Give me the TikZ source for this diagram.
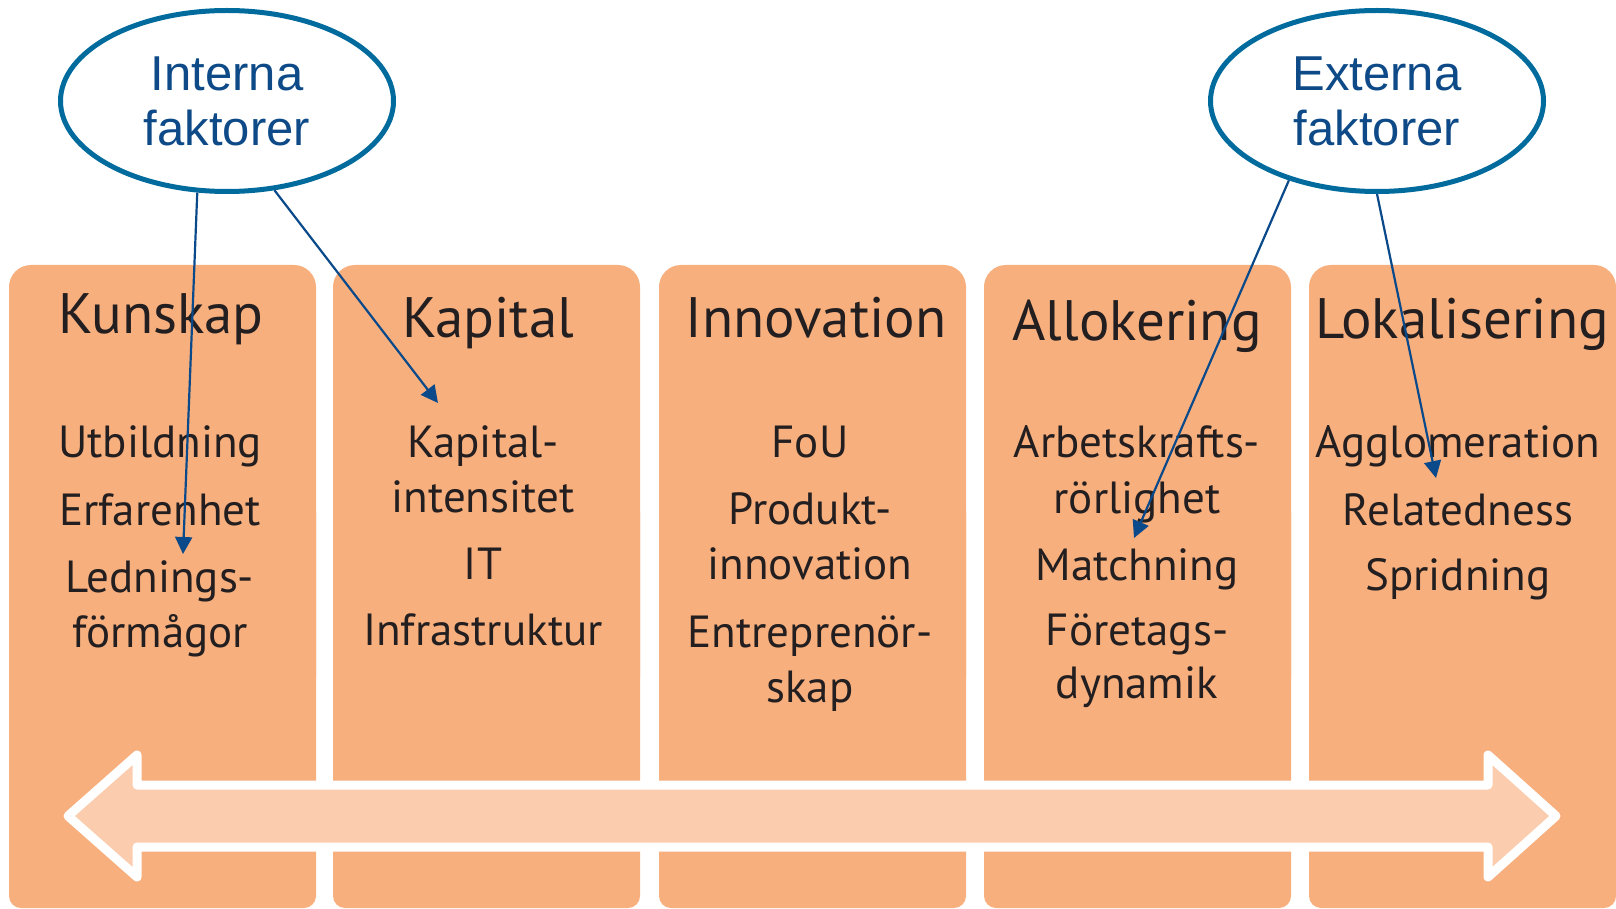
\documentclass[tikz,border=0pt]{standalone}
\usepackage{fontspec}
\setmainfont{PT Sans}
\newfontfamily\arialf{Liberation Sans}
\usetikzlibrary{shapes.geometric,arrows.meta}
\definecolor{colfill}{HTML}{F8AF7E}
\definecolor{arrfill}{HTML}{FBCCAD}
\definecolor{ellline}{HTML}{006B9C}
\definecolor{elltext}{HTML}{0D4A87}
\definecolor{connc}{HTML}{0B4A8A}
\definecolor{txt}{HTML}{231F20}
\begin{document}
\begin{tikzpicture}[x=1pt,y=-1pt,
  factor/.style={ellipse, draw=ellline, line width=5pt, fill=white, minimum width=333pt, minimum height=181pt, inner sep=0pt, align=center, text=elltext, font=\arialf\fontsize{49}{55}\selectfont},
  head/.style={text=txt, font=\fontsize{57}{60}\selectfont, anchor=base, inner sep=0pt},
  item/.style={text=txt, font=\fontsize{45}{55}\selectfont, anchor=base, inner sep=0pt},
  colbox/.style={fill=colfill},
  bigarrow/.style={draw=white, line width=9pt, line join=round, fill=arrfill},
  connarrow/.style={draw=connc, line width=2.2pt, -{Triangle[length=17pt,width=17pt]}},
]
\useasboundingbox (0,0) rectangle (1616,909);
% columns
\foreach \x in {9,333,659,984,1309}{
  \fill[colbox, rounded corners=22pt] (\x,265) rectangle (\x+307,700);
  \fill[colbox, rounded corners=12pt] (\x,500) rectangle (\x+307,908);
}
% double arrow
\path[bigarrow] (68,816) -- (137,755) -- (137,785) -- (1488,785) -- (1488,755) -- (1556,816) -- (1488,877) -- (1488,847) -- (137,847) -- (137,877) -- cycle;
% ellipses
\node[factor] (int) at (227,101) {Interna\\faktorer};
\node[factor] (ext) at (1377,101) {Externa\\faktorer};
% column 1
\node[head] (h1) at (161,333) {Kunskap};
\node[item] (a1) at (160,457) {Utbildning};
\node[item] (a2) at (160,525) {Erfarenhet};
\node[item] (a3) at (160,592) {Lednings-};
\node[item] (a4) at (160,647) {förmågor};
% column 2
\node[head] (h2) at (488,337) {Kapital};
\node[item] (b1) at (483,457) {Kapital-};
\node[item] (b2) at (483,512) {intensitet};
\node[item] (b3) at (483,579) {IT};
\node[item] (b4) at (483,645) {Infrastruktur};
% column 3
\node[head] (h3) at (816,337) {Innovation};
\node[item] (c1) at (810,457) {FoU};
\node[item] (c2) at (810,524) {Produkt-};
\node[item] (c3) at (810,579) {innovation};
\node[item] (c4) at (810,647) {Entreprenör-};
\node[item] (c5) at (810,702) {skap};
% column 4
\node[head] (h4) at (1137,340) {Allokering};
\node[item] (d1) at (1137,457) {Arbetskrafts-};
\node[item] (d2) at (1137,513) {rörlighet};
\node[item] (d3) at (1137,580) {Matchning};
\node[item] (d4) at (1137,645) {Företags-};
\node[item] (d5) at (1137,698) {dynamik};
% column 5
\node[head] (h5) at (1462,338) {Lokalisering};
\node[item] (e1) at (1458,457) {Agglomeration};
\node[item] (e2) at (1458,525) {Relatedness};
\node[item] (e3) at (1458,590) {Spridning};
% connectors
\coordinate (t1) at (183,554);
\coordinate (t2) at (438,403);
\coordinate (t3) at (1134,538);
\coordinate (t4) at (1436,478);
\draw[connarrow] (int.252) -- (t1);
\draw[connarrow] (int.298) -- (t2);
\draw[connarrow] (ext.222) -- (t3);
\draw[connarrow] (ext.270) -- (t4);
\end{tikzpicture}
\end{document}
